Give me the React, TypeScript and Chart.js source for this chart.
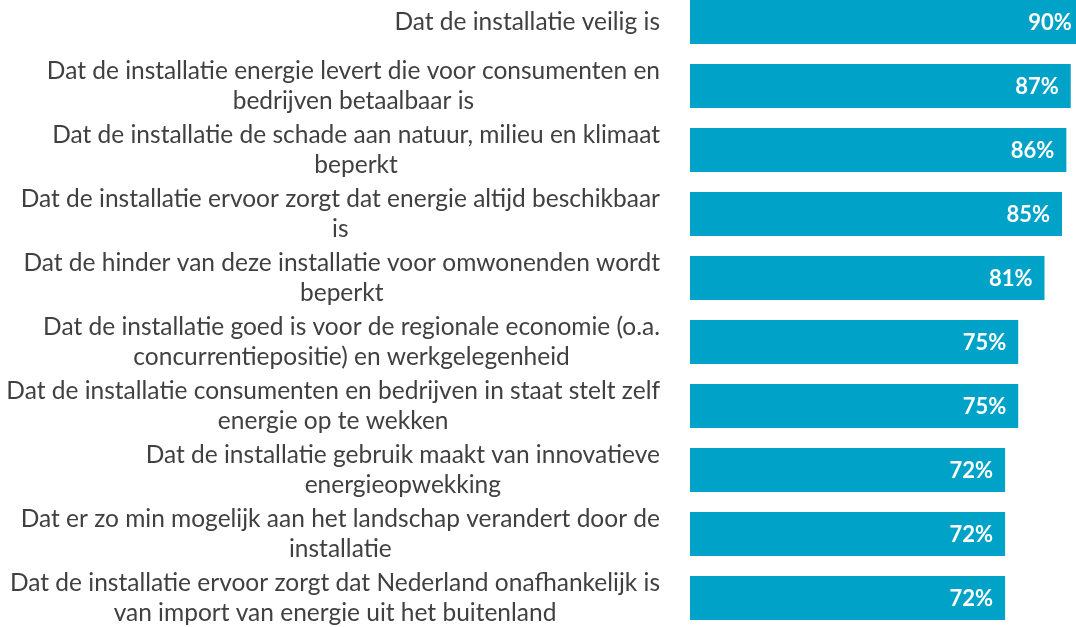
import React, { useEffect, useRef } from "react";
import { Chart, registerables } from "chart.js";

Chart.register(...registerables);

const categories: string[][] = [
  ["Dat de installatie veilig is"],
  ["Dat de installatie energie levert die voor consumenten en", "bedrijven betaalbaar is"],
  ["Dat de installatie de schade aan natuur, milieu en klimaat", "beperkt"],
  ["Dat de installatie ervoor zorgt dat energie altijd beschikbaar", "is"],
  ["Dat de hinder van deze installatie voor omwonenden wordt", "beperkt"],
  ["Dat de installatie goed is voor de regionale economie (o.a.", "concurrentiepositie) en werkgelegenheid"],
  ["Dat de installatie consumenten en bedrijven in staat stelt zelf", "energie op te wekken"],
  ["Dat de installatie gebruik maakt van innovatieve", "energieopwekking"],
  ["Dat er zo min mogelijk aan het landschap verandert door de", "installatie"],
  ["Dat de installatie ervoor zorgt dat Nederland onafhankelijk is", "van import van energie uit het buitenland"],
];

const values: number[] = [90, 87, 86, 85, 81, 75, 75, 72, 72, 72];
const valueLabels: string[] = ["90%", "87%", "86%", "85%", "81%", "75%", "75%", "72%", "72%", "72%"];

const BAR_COLOR = "#00A2C7";
const TEXT_COLOR = "#404040";
const FONT_FAMILY = "Lato, 'Open Sans', sans-serif";

const labelPlugin = {
  id: "customLabels",
  afterDatasetsDraw(chart: any) {
    const ctx = chart.ctx as CanvasRenderingContext2D;
    const yScale = chart.scales.y;
    const area = chart.chartArea;
    const meta = chart.getDatasetMeta(0);
    ctx.save();
    // category labels
    ctx.font = `24.5px ${FONT_FAMILY}`;
    ctx.fillStyle = TEXT_COLOR;
    ctx.textBaseline = "middle";
    ctx.textAlign = "center";
    const lineH = 29.5;
    categories.forEach((lines, i) => {
      const y = yScale.getPixelForValue(i);
      const maxW = Math.max(...lines.map((l) => ctx.measureText(l).width));
      const cx = area.left - 30 - maxW / 2;
      lines.forEach((line, j) => {
        const ly = y + (j - (lines.length - 1) / 2) * lineH;
        ctx.fillText(line, cx, ly);
      });
    });
    // value labels
    ctx.font = `bold 22px ${FONT_FAMILY}`;
    ctx.fillStyle = "#FFFFFF";
    ctx.textAlign = "right";
    meta.data.forEach((el: any, i: number) => {
      ctx.fillText(valueLabels[i], el.x - 12, el.y + 1);
    });
    ctx.restore();
  },
};

export default function App() {
  const canvasRef = useRef<HTMLCanvasElement | null>(null);

  useEffect(() => {
    if (!canvasRef.current) return;
    const chart = new Chart(canvasRef.current, {
      type: "bar",
      data: {
        labels: categories.map((c) => c.join(" ")),
        datasets: [
          {
            data: values,
            backgroundColor: BAR_COLOR,
            borderWidth: 0,
            barPercentage: 0.69,
            categoryPercentage: 1,
          },
        ],
      },
      options: {
        indexAxis: "y",
        animation: false,
        responsive: true,
        maintainAspectRatio: false,
        layout: { padding: { left: 690, right: 0, top: 0, bottom: 0 } },
        scales: {
          x: { display: false, min: 0, max: 88.2 },
          y: { display: false },
        },
        plugins: {
          legend: { display: false },
          tooltip: { enabled: false },
        },
      },
      plugins: [labelPlugin],
    });
    return () => chart.destroy();
  }, []);

  return (
    <div
      style={{
        position: "fixed",
        left: 0,
        top: -10,
        width: 1076,
        height: 640,
        background: "#FFFFFF",
      }}
    >
      <canvas ref={canvasRef} />
    </div>
  );
}
